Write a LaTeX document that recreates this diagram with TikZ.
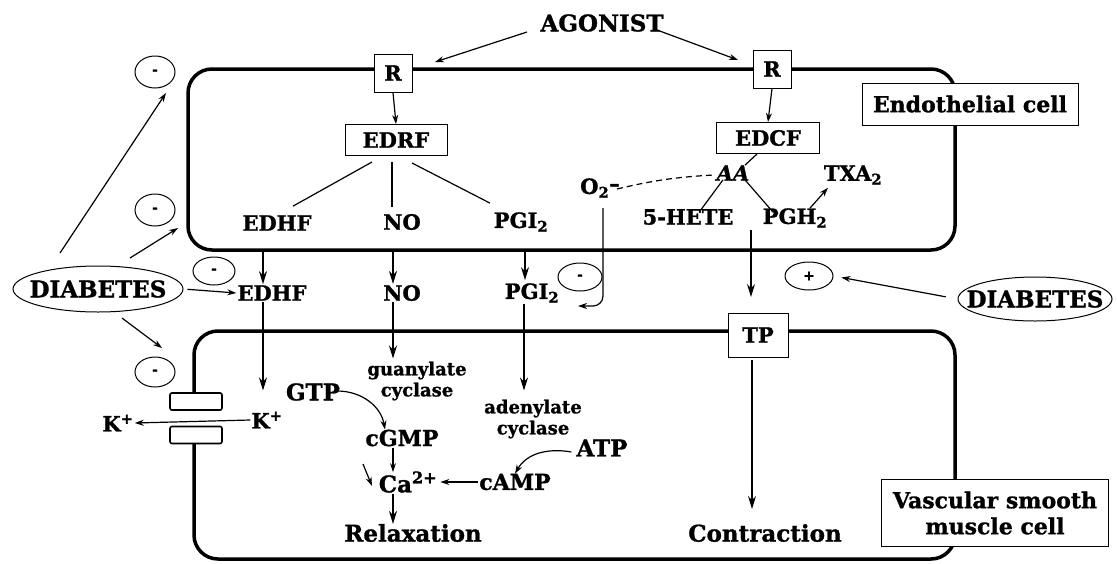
\documentclass[tikz,border=0pt]{standalone}
\usepackage{fontspec}
\setmainfont{DejaVu Serif}[BoldFeatures={FakeBold=1.2},BoldItalicFeatures={FakeBold=1.2}]
\usetikzlibrary{arrows.meta,shapes.geometric,calc}
\begin{document}
\begin{tikzpicture}[x=1pt,y=-1pt,
 lbl/.style={font=\fontsize{21}{23}\selectfont\bfseries, inner sep=1pt},
 big/.style={font=\fontsize{23}{25}\selectfont\bfseries, inner sep=1pt},
 small/.style={font=\fontsize{18}{21}\selectfont\bfseries, inner sep=1pt, align=center},
 boxed/.style={draw, line width=1pt, fill=white, inner sep=0pt},
 cell/.style={line width=3.5pt, rounded corners=24pt},
 chan/.style={draw, line width=1.6pt, rounded corners=2pt, fill=white, minimum width=52pt, minimum height=17pt, inner sep=0pt},
 arr/.style={-{Stealth[length=13pt,width=8pt]}, line width=1.2pt},
 sarr/.style={-{Stealth[length=9pt,width=6pt]}, line width=1.2pt},
 ln/.style={line width=1.2pt},
 sign/.style={draw, ellipse, line width=1pt, minimum width=40pt, minimum height=30pt, inner sep=0pt, font=\fontsize{14}{14}\selectfont\bfseries},
 dia/.style={draw, ellipse, line width=1pt, inner xsep=-16pt, inner ysep=0pt, font=\fontsize{23}{25}\selectfont\bfseries}
]
\useasboundingbox (0,0) rectangle (1117,563);

% cells
\draw[cell] (188,69) rectangle (955,250);
\draw[cell] (194,393) -- (194,331) -- (955,331) -- (955,559) -- (194,559) -- (194,443);
\node[chan] (ch1) at (196,401.5) {};
\node[chan] (ch2) at (196,435) {};

% labels of cells
\node[boxed, font=\fontsize{22}{24}\selectfont\bfseries, minimum width=216pt, minimum height=42pt] (endo) at (970,104) {Endothelial cell};
\node[boxed, font=\fontsize{22}{26}\selectfont\bfseries, align=center, minimum width=227pt, minimum height=67pt] (vsm) at (995,513) {Vascular smooth\\muscle cell};

% top
\node[big] (ag) at (602,23) {AGONIST};
\node[boxed, lbl, minimum width=38pt, minimum height=38pt] (R1) at (393,73) {R};
\node[boxed, lbl, minimum width=38pt, minimum height=38pt] (R2) at (772,69) {R};
\node[boxed, lbl, minimum width=102pt, minimum height=31pt] (edrf) at (396,140) {EDRF};
\node[boxed, lbl, minimum width=103pt, minimum height=31pt] (edcf) at (768,138) {EDCF};

\node[lbl] (eh1) at (277,223) {EDHF};
\node[lbl] (no1) at (402,222) {NO};
\node[lbl] (pg1) at (521,222) {PGI\textsubscript{2}};
\node[lbl] (o2) at (600,188) {O\textsubscript{2}\raisebox{3pt}{\textendash}};
\node[lbl] (aa) at (733,173) {\itshape AA};
\node[lbl] (hete) at (688,217) {5-HETE};
\node[lbl] (pgh) at (795,218) {PGH\textsubscript{2}};
\node[lbl] (txa) at (853,175) {TXA\textsubscript{2}};

% middle
\node[lbl] (eh2) at (272,293) {EDHF};
\node[lbl] (no2) at (402,293) {NO};
\node[lbl] (pg2) at (532,293) {PGI\textsubscript{2}};
\node[dia, minimum width=170pt, minimum height=46pt] (dl) at (98,289) {DIABETES};
\node[dia, minimum width=154pt, minimum height=44pt] (dr) at (1035,299) {DIABETES};
\node[sign, minimum height=32pt] (s1) at (155,72) {-};
\node[sign, minimum height=32pt] (s2) at (155,210) {-};
\node[sign, minimum width=42pt, minimum height=28pt] (s3) at (214,271) {-};
\node[sign] (s4) at (155,372) {-};
\node[sign, minimum width=44pt, minimum height=28pt] (s5) at (580,277) {-};
\node[sign, minimum width=48pt, minimum height=28pt] (sp) at (809,276) {+};

% bottom
\node[boxed, lbl, minimum width=60pt, minimum height=44pt] (tp) at (758,335) {TP};
\node[small] (gc) at (417,381) {guanylate\\cyclase};
\node[small] (ac) at (533,419) {adenylate\\cyclase};
\node[lbl, font=\fontsize{23}{25}\selectfont\bfseries] (gtp) at (313,392) {GTP};
\node[lbl, font=\fontsize{22}{25}\selectfont\bfseries] (cgmp) at (402,438) {cGMP};
\node[lbl, font=\fontsize{23}{25}\selectfont\bfseries] (ca) at (408,482) {Ca\textsuperscript{2+}};
\node[lbl, font=\fontsize{22}{25}\selectfont\bfseries] (camp) at (515,482) {cAMP};
\node[lbl, font=\fontsize{23}{25}\selectfont\bfseries] (atp) at (602,448) {ATP};
\node[big] (relax) at (413,533) {Relaxation};
\node[big] (contr) at (765,533) {Contraction};
\node[lbl] (k1) at (267,420) {K\textsuperscript{+}};
\node[lbl] (k2) at (118,423) {K\textsuperscript{+}};

% free ends
\coordinate (agl) at (527,32);  \coordinate (agle) at (435,62);
\coordinate (agr) at (657,30);  \coordinate (agre) at (738,60);
\coordinate (d1) at (60,253);   \coordinate (d1e) at (166,93);
\coordinate (d2) at (130,258);  \coordinate (d2e) at (178,228);
\coordinate (d4) at (122,318);  \coordinate (d4e) at (162,348);
\coordinate (o2a) at (603,208); \coordinate (o2e) at (578,306);
\coordinate (pgha) at (751,230); \coordinate (tpa) at (751,297);
\coordinate (tpb) at (752,360); \coordinate (cta) at (752,509);
\coordinate (cx1) at (363,464); \coordinate (cx2) at (372,486);

% connectors
\draw[sarr] (agl) -- (agle);
\draw[sarr] (agr) -- (agre);
\draw[sarr] (R1.south) -- (edrf.north);
\draw[sarr] (R2.south) -- (edcf.north);
\draw[ln] ([xshift=-24pt,yshift=-6pt]edrf.south) -- ([xshift=16pt,yshift=8pt]eh1.north);
\draw[ln] ([xshift=-4pt,yshift=-6pt]edrf.south) -- ([xshift=-10pt,yshift=6pt]no1.north);
\draw[ln] ([xshift=16pt,yshift=-7pt]edrf.south) -- ([xshift=-31pt,yshift=8pt]pg1.north);
\draw[ln] ([xshift=-11pt]edcf.south) -- ([xshift=12pt,yshift=-1pt]aa.north);
\draw[ln] ([xshift=-10pt,yshift=2pt]aa.south) -- ([xshift=12pt,yshift=-3pt]hete.north);
\draw[ln] ([xshift=12pt,yshift=2pt]aa.south) -- ([xshift=-22pt,yshift=-5pt]pgh.north);
\draw[sarr] ([xshift=15pt,yshift=-1pt]pgh.north) -- ([xshift=-25pt,yshift=-2pt]txa.south);
\draw[ln, dashed, dash pattern=on 6pt off 4pt] ([xshift=-4pt,yshift=-1pt]o2.east) to[bend left=5] ([xshift=-2pt,yshift=-2pt]aa.west);
\draw[sarr, rounded corners=10pt] (o2a) -- (603,306) -- (o2e);

\draw[arr, shorten <=18pt] ([xshift=-14pt]eh1.south) -- ([xshift=-9pt]eh2.north);
\draw[arr, shorten <=18pt] ([xshift=-9pt]no1.south) -- ([xshift=-9pt]no2.north);
\draw[arr, shorten <=18pt] ([xshift=4pt]pg1.south) -- ([xshift=-7pt,yshift=2pt]pg2.north);

\draw[sarr] (d1) -- (d1e);
\draw[sarr] (d2) -- (d2e);
\draw[sarr, shorten <=4pt] (dl.east) -- (eh2.west);
\draw[sarr] (d4) -- (d4e);
\draw[sarr, shorten <=12pt, shorten >=8pt] (dr.west) -- (sp.east);

\draw[arr] ([xshift=-9pt]eh2.south) -- ([xshift=-4pt,yshift=20pt]k1.north);
\draw[sarr] (k1.west) -- (k2.east);
\draw[arr] ([xshift=-9pt]no2.south) -- ([xshift=-24pt,yshift=2pt]gc.north);
\draw[arr] ([xshift=-8pt]pg2.south) -- ([xshift=-9pt,yshift=8pt]ac.north);
\draw[sarr] ([xshift=-4pt,yshift=1pt]gtp.east) to[out=0,in=100] ([xshift=-17pt,yshift=-1pt]cgmp.north);
\draw[sarr] ([xshift=-9pt]cgmp.south) -- ([xshift=-15pt,yshift=-2pt]ca.north);
\draw[sarr] (cx1) -- (cx2);
\draw[sarr] (camp.west) -- ([xshift=2pt]ca.east);
\draw[sarr] ([xshift=-4pt,yshift=-4pt]atp.west) to[out=170,in=60] ([xshift=0pt,yshift=-1pt]camp.north);
\draw[arr] ([xshift=-15pt]ca.south) -- ([xshift=-20pt,yshift=-1pt]relax.north);

\draw[arr] (pgha) -- (tpa);
\draw[arr] (tpb) -- (cta);
\end{tikzpicture}
\end{document}
